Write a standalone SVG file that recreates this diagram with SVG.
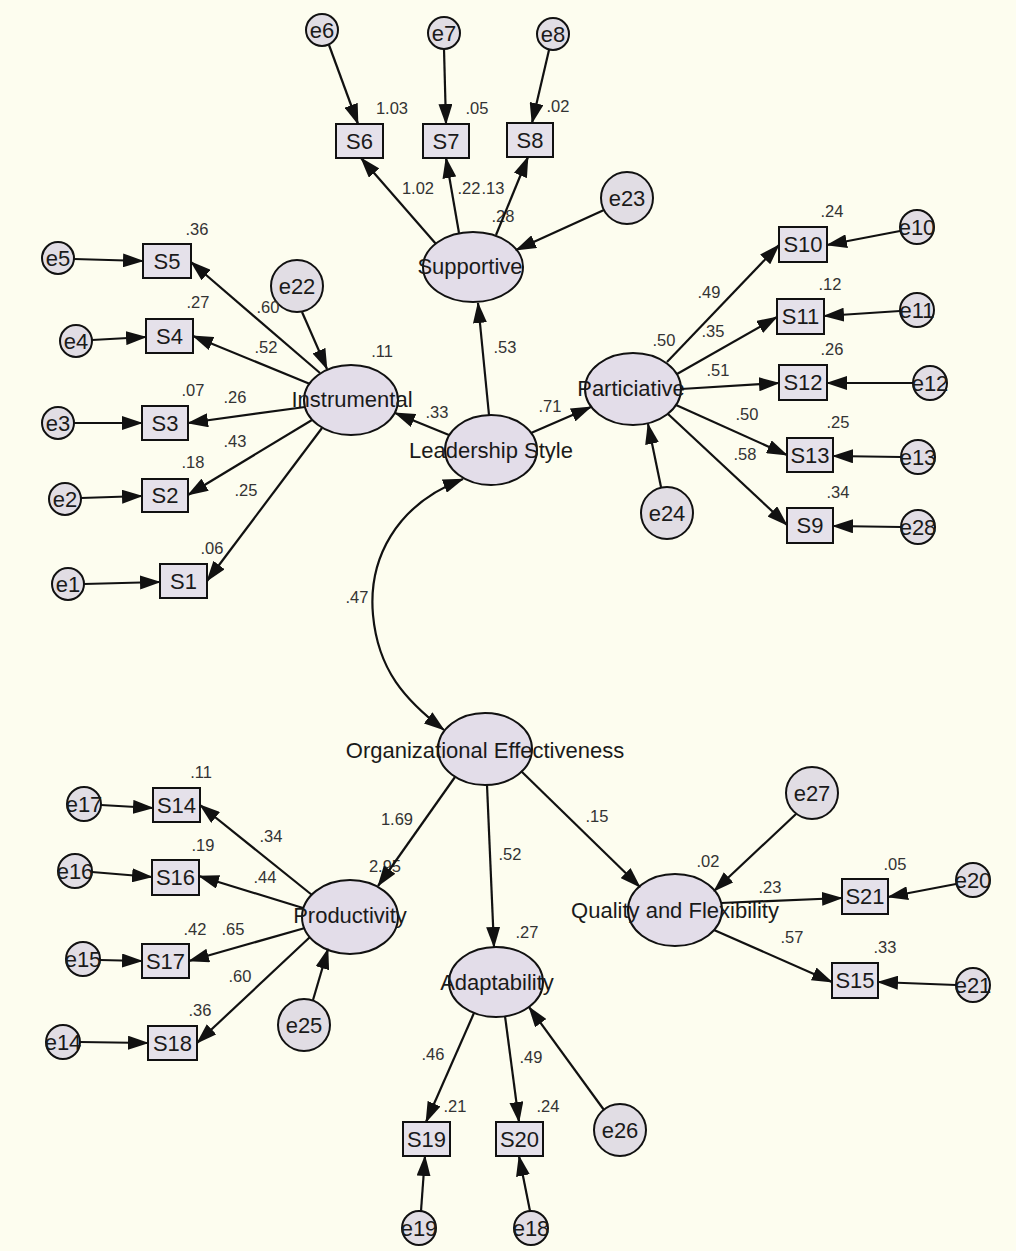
<svg xmlns="http://www.w3.org/2000/svg" width="1016" height="1251" viewBox="0 0 1016 1251">
<style>
.lat{fill:#E3DDE9;stroke:#111;stroke-width:2}
.obs{fill:#E5E1EA;stroke:#111;stroke-width:2}
.err{fill:#E1DDE4;stroke:#111;stroke-width:2}
.lbl{font-family:"Liberation Sans",Arial,sans-serif;font-size:22px;fill:#1a1a1a;text-anchor:middle}
.num{font-family:"Liberation Sans",Arial,sans-serif;font-size:16.5px;fill:#333;text-anchor:middle}
.con line,.con path{stroke:#111;stroke-width:2.2;fill:none;marker-end:url(#ah)}
.con path.cov{marker-start:url(#ah)}
</style>
<defs>
<marker id="ah" markerUnits="userSpaceOnUse" markerWidth="21" markerHeight="14" refX="20" refY="7" orient="auto-start-reverse">
<path d="M0,0 L21,7 L0,14 z" fill="#111"/>
</marker>
</defs>
<rect x="0" y="0" width="1016" height="1251" fill="#FDFDEF"/>

<g id="nodes">
<g id="n-supportive"><ellipse class="lat" cx="473" cy="267" rx="50" ry="35"/><text class="lbl" x="470" y="274">Supportive</text></g>
<g id="n-instrumental"><ellipse class="lat" cx="351" cy="400" rx="47" ry="35"/><text class="lbl" x="352" y="407">Instrumental</text></g>
<g id="n-leadership"><ellipse class="lat" cx="491" cy="450" rx="46" ry="35"/><text class="lbl" x="491" y="458">Leadership Style</text></g>
<g id="n-particiative"><ellipse class="lat" cx="633" cy="389" rx="48" ry="36"/><text class="lbl" x="631" y="396">Particiative</text></g>
<g id="n-oe"><ellipse class="lat" cx="485" cy="749" rx="47" ry="36"/><text class="lbl" x="485" y="758">Organizational Effectiveness</text></g>
<g id="n-productivity"><ellipse class="lat" cx="350" cy="917" rx="48" ry="37"/><text class="lbl" x="350" y="923">Productivity</text></g>
<g id="n-adaptability"><ellipse class="lat" cx="496" cy="982" rx="47" ry="35"/><text class="lbl" x="497" y="990">Adaptability</text></g>
<g id="n-quality"><ellipse class="lat" cx="675" cy="910" rx="47" ry="36"/><text class="lbl" x="675" y="918">Quality and Flexibility</text></g>

<g id="n-S6"><rect class="obs" x="336" y="124" width="47" height="34"/><text class="lbl" x="359.5" y="149">S6</text></g>
<g id="n-S7"><rect class="obs" x="423" y="124" width="46" height="34"/><text class="lbl" x="446" y="149">S7</text></g>
<g id="n-S8"><rect class="obs" x="507" y="123" width="46" height="34"/><text class="lbl" x="530" y="148">S8</text></g>
<g id="n-S5"><rect class="obs" x="143" y="244" width="48" height="34"/><text class="lbl" x="167" y="269">S5</text></g>
<g id="n-S4"><rect class="obs" x="146" y="319" width="47" height="34"/><text class="lbl" x="169.5" y="344">S4</text></g>
<g id="n-S3"><rect class="obs" x="142" y="406" width="46" height="34"/><text class="lbl" x="165" y="431">S3</text></g>
<g id="n-S2"><rect class="obs" x="142" y="479" width="46" height="33"/><text class="lbl" x="165" y="503">S2</text></g>
<g id="n-S1"><rect class="obs" x="160" y="564" width="47" height="34"/><text class="lbl" x="183.5" y="589">S1</text></g>
<g id="n-S10"><rect class="obs" x="779" y="227" width="48" height="35"/><text class="lbl" x="803" y="252">S10</text></g>
<g id="n-S11"><rect class="obs" x="777" y="299" width="47" height="35"/><text class="lbl" x="800.5" y="324">S11</text></g>
<g id="n-S12"><rect class="obs" x="779" y="365" width="48" height="35"/><text class="lbl" x="803" y="390">S12</text></g>
<g id="n-S13"><rect class="obs" x="787" y="438" width="46" height="34"/><text class="lbl" x="810" y="463">S13</text></g>
<g id="n-S9"><rect class="obs" x="787" y="508" width="46" height="35"/><text class="lbl" x="810" y="533">S9</text></g>
<g id="n-S14"><rect class="obs" x="153" y="788" width="47" height="34"/><text class="lbl" x="176.5" y="813">S14</text></g>
<g id="n-S16"><rect class="obs" x="152" y="860" width="47" height="35"/><text class="lbl" x="175.5" y="885">S16</text></g>
<g id="n-S17"><rect class="obs" x="142" y="944" width="47" height="34"/><text class="lbl" x="165.5" y="969">S17</text></g>
<g id="n-S18"><rect class="obs" x="148" y="1026" width="49" height="34"/><text class="lbl" x="172.5" y="1051">S18</text></g>
<g id="n-S21"><rect class="obs" x="842" y="879" width="46" height="35"/><text class="lbl" x="865" y="904">S21</text></g>
<g id="n-S15"><rect class="obs" x="832" y="963" width="46" height="35"/><text class="lbl" x="855" y="988">S15</text></g>
<g id="n-S19"><rect class="obs" x="403" y="1122" width="47" height="34"/><text class="lbl" x="426.5" y="1147">S19</text></g>
<g id="n-S20"><rect class="obs" x="496" y="1122" width="47" height="34"/><text class="lbl" x="519.5" y="1147">S20</text></g>

<g id="n-e6"><circle class="err" cx="322" cy="30" r="16"/><text class="lbl" x="322" y="38">e6</text></g>
<g id="n-e7"><circle class="err" cx="444" cy="33" r="16"/><text class="lbl" x="444" y="41">e7</text></g>
<g id="n-e8"><circle class="err" cx="553" cy="34" r="16"/><text class="lbl" x="553" y="42">e8</text></g>
<g id="n-e23"><circle class="err" cx="627" cy="198" r="26"/><text class="lbl" x="627" y="206">e23</text></g>
<g id="n-e22"><circle class="err" cx="297" cy="286" r="26"/><text class="lbl" x="297" y="294">e22</text></g>
<g id="n-e5"><circle class="err" cx="58" cy="258" r="16"/><text class="lbl" x="58" y="266">e5</text></g>
<g id="n-e4"><circle class="err" cx="76" cy="341" r="16"/><text class="lbl" x="76" y="349">e4</text></g>
<g id="n-e3"><circle class="err" cx="58" cy="423" r="16"/><text class="lbl" x="58" y="431">e3</text></g>
<g id="n-e2"><circle class="err" cx="65" cy="499" r="16"/><text class="lbl" x="65" y="507">e2</text></g>
<g id="n-e1"><circle class="err" cx="68" cy="584" r="16"/><text class="lbl" x="68" y="592">e1</text></g>
<g id="n-e10"><circle class="err" cx="917" cy="227" r="17"/><text class="lbl" x="917" y="235">e10</text></g>
<g id="n-e11"><circle class="err" cx="917" cy="310" r="17"/><text class="lbl" x="917" y="318">e11</text></g>
<g id="n-e12"><circle class="err" cx="930" cy="383" r="17"/><text class="lbl" x="930" y="391">e12</text></g>
<g id="n-e13"><circle class="err" cx="918" cy="457" r="17"/><text class="lbl" x="918" y="465">e13</text></g>
<g id="n-e28"><circle class="err" cx="918" cy="527" r="17"/><text class="lbl" x="918" y="535">e28</text></g>
<g id="n-e24"><circle class="err" cx="667" cy="513" r="26"/><text class="lbl" x="667" y="521">e24</text></g>
<g id="n-e17"><circle class="err" cx="84" cy="804" r="17"/><text class="lbl" x="84" y="812">e17</text></g>
<g id="n-e16"><circle class="err" cx="75" cy="871" r="17"/><text class="lbl" x="75" y="879">e16</text></g>
<g id="n-e15"><circle class="err" cx="83" cy="959" r="17"/><text class="lbl" x="83" y="967">e15</text></g>
<g id="n-e14"><circle class="err" cx="63" cy="1042" r="17"/><text class="lbl" x="63" y="1050">e14</text></g>
<g id="n-e25"><circle class="err" cx="304" cy="1025" r="26"/><text class="lbl" x="304" y="1033">e25</text></g>
<g id="n-e27"><circle class="err" cx="812" cy="793" r="26"/><text class="lbl" x="812" y="801">e27</text></g>
<g id="n-e20"><circle class="err" cx="973" cy="880" r="17"/><text class="lbl" x="973" y="888">e20</text></g>
<g id="n-e21"><circle class="err" cx="973" cy="985" r="17"/><text class="lbl" x="973" y="993">e21</text></g>
<g id="n-e26"><circle class="err" cx="620" cy="1130" r="26"/><text class="lbl" x="620" y="1138">e26</text></g>
<g id="n-e19"><circle class="err" cx="419" cy="1228" r="17"/><text class="lbl" x="419" y="1236">e19</text></g>
<g id="n-e18"><circle class="err" cx="531" cy="1228" r="17"/><text class="lbl" x="531" y="1236">e18</text></g>
</g>

<g id="labels" class="num">
<text class="num" x="392" y="114">1.03</text>
<text class="num" x="477" y="114">.05</text>
<text class="num" x="558" y="112">.02</text>
<text class="num" x="418" y="194">1.02</text>
<text class="num" x="469" y="194">.22</text>
<text class="num" x="493" y="194">.13</text>
<text class="num" x="503" y="222">.28</text>
<text class="num" x="505" y="353">.53</text>
<text class="num" x="437" y="418">.33</text>
<text class="num" x="550" y="412">.71</text>
<text class="num" x="197" y="235">.36</text>
<text class="num" x="268" y="313">.60</text>
<text class="num" x="198" y="308">.27</text>
<text class="num" x="266" y="353">.52</text>
<text class="num" x="382" y="357">.11</text>
<text class="num" x="193" y="396">.07</text>
<text class="num" x="235" y="403">.26</text>
<text class="num" x="235" y="447">.43</text>
<text class="num" x="193" y="468">.18</text>
<text class="num" x="246" y="496">.25</text>
<text class="num" x="212" y="554">.06</text>
<text class="num" x="357" y="603">.47</text>
<text class="num" x="664" y="346">.50</text>
<text class="num" x="709" y="298">.49</text>
<text class="num" x="713" y="337">.35</text>
<text class="num" x="718" y="376">.51</text>
<text class="num" x="747" y="420">.50</text>
<text class="num" x="745" y="460">.58</text>
<text class="num" x="832" y="217">.24</text>
<text class="num" x="830" y="290">.12</text>
<text class="num" x="832" y="355">.26</text>
<text class="num" x="838" y="428">.25</text>
<text class="num" x="838" y="498">.34</text>
<text class="num" x="397" y="825">1.69</text>
<text class="num" x="385" y="872">2.95</text>
<text class="num" x="510" y="860">.52</text>
<text class="num" x="597" y="822">.15</text>
<text class="num" x="527" y="938">.27</text>
<text class="num" x="201" y="778">.11</text>
<text class="num" x="271" y="842">.34</text>
<text class="num" x="203" y="851">.19</text>
<text class="num" x="265" y="883">.44</text>
<text class="num" x="195" y="935">.42</text>
<text class="num" x="233" y="935">.65</text>
<text class="num" x="240" y="982">.60</text>
<text class="num" x="200" y="1016">.36</text>
<text class="num" x="708" y="867">.02</text>
<text class="num" x="770" y="893">.23</text>
<text class="num" x="895" y="870">.05</text>
<text class="num" x="792" y="943">.57</text>
<text class="num" x="885" y="953">.33</text>
<text class="num" x="433" y="1060">.46</text>
<text class="num" x="531" y="1063">.49</text>
<text class="num" x="455" y="1112">.21</text>
<text class="num" x="548" y="1112">.24</text>
</g>

<g id="connectors" class="con">
<line x1="489" y1="415" x2="478" y2="303"/>
<line x1="449" y1="435" x2="395" y2="413"/>
<line x1="531" y1="433" x2="591" y2="407"/>
<line x1="320" y1="373" x2="191" y2="262"/>
<line x1="310" y1="384" x2="193" y2="336"/>
<line x1="305" y1="407" x2="188" y2="423"/>
<line x1="312" y1="420" x2="188" y2="495"/>
<line x1="322" y1="428" x2="207" y2="581"/>
<line x1="302" y1="312" x2="327" y2="369"/>
<line x1="74" y1="259" x2="143" y2="261"/>
<line x1="92" y1="340" x2="146" y2="337"/>
<line x1="74" y1="423" x2="142" y2="423"/>
<line x1="81" y1="498" x2="142" y2="496"/>
<line x1="84" y1="584" x2="160" y2="582"/>
<line x1="436" y1="244" x2="361" y2="158"/>
<line x1="459" y1="233" x2="446" y2="158"/>
<line x1="496" y1="235" x2="528" y2="157"/>
<line x1="329" y1="45" x2="358" y2="124"/>
<line x1="444" y1="49" x2="446" y2="124"/>
<line x1="549" y1="50" x2="532" y2="123"/>
<line x1="604" y1="210" x2="516" y2="250"/>
<line x1="667" y1="362" x2="779" y2="245"/>
<line x1="677" y1="374" x2="777" y2="317"/>
<line x1="681" y1="389" x2="779" y2="383"/>
<line x1="676" y1="405" x2="787" y2="455"/>
<line x1="668" y1="414" x2="787" y2="525"/>
<line x1="661" y1="487" x2="648" y2="424"/>
<line x1="900" y1="231" x2="827" y2="245"/>
<line x1="900" y1="311" x2="824" y2="316"/>
<line x1="913" y1="383" x2="827" y2="383"/>
<line x1="901" y1="457" x2="833" y2="456"/>
<line x1="901" y1="527" x2="833" y2="526"/>
<path class="cov" d="M463,479 C395,505 368,560 373,615 S405,700 444,730"/>
<line x1="455" y1="777" x2="378" y2="886"/>
<line x1="487" y1="785" x2="494" y2="947"/>
<line x1="521" y1="771" x2="640" y2="887"/>
<line x1="312" y1="895" x2="200" y2="805"/>
<line x1="303" y1="908" x2="199" y2="876"/>
<line x1="305" y1="928" x2="189" y2="961"/>
<line x1="310" y1="937" x2="197" y2="1043"/>
<line x1="313" y1="1000" x2="328" y2="949"/>
<line x1="101" y1="805" x2="153" y2="808"/>
<line x1="92" y1="872" x2="152" y2="877"/>
<line x1="100" y1="960" x2="142" y2="961"/>
<line x1="80" y1="1042" x2="148" y2="1043"/>
<line x1="474" y1="1013" x2="426" y2="1122"/>
<line x1="505" y1="1016" x2="519" y2="1122"/>
<line x1="604" y1="1110" x2="529" y2="1007"/>
<line x1="421" y1="1211" x2="425" y2="1156"/>
<line x1="530" y1="1211" x2="519" y2="1156"/>
<line x1="721" y1="903" x2="842" y2="898"/>
<line x1="714" y1="930" x2="832" y2="982"/>
<line x1="796" y1="814" x2="714" y2="891"/>
<line x1="956" y1="884" x2="888" y2="897"/>
<line x1="956" y1="985" x2="878" y2="982"/>
</g>
</svg>
